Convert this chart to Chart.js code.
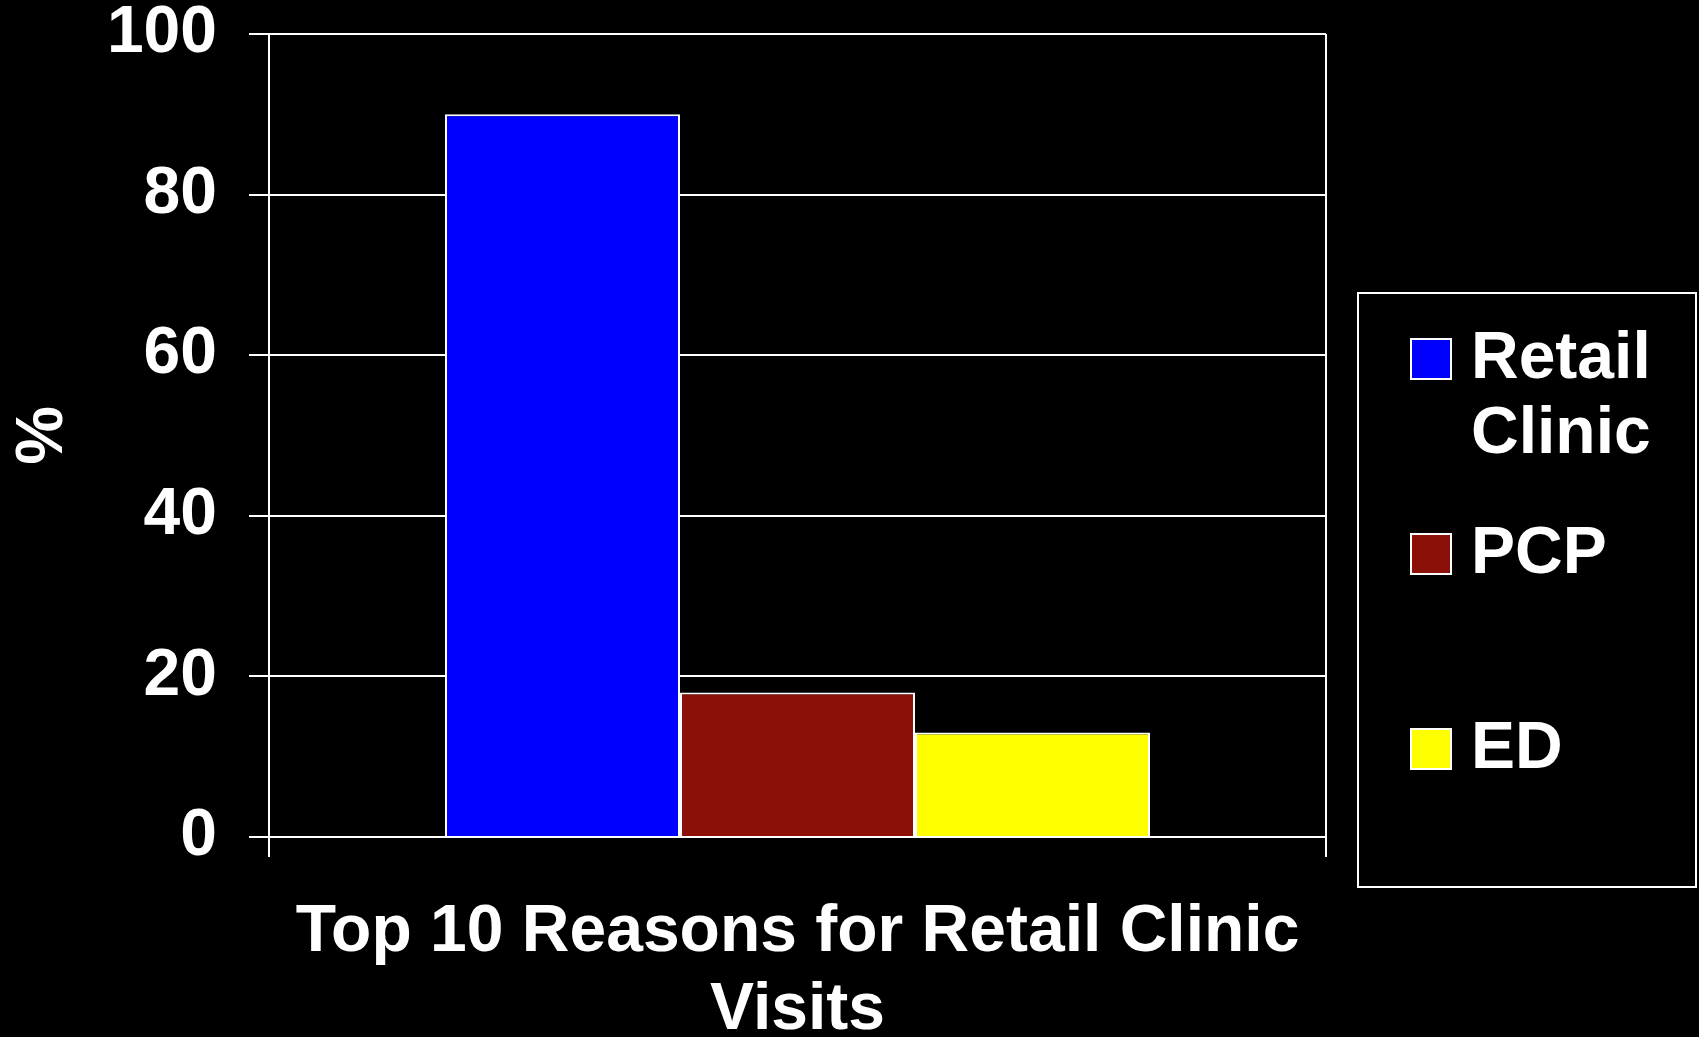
<!DOCTYPE html>
<html>
<head>
<meta charset="utf-8">
<script src="https://cdn.jsdelivr.net/npm/chart.js@4/dist/chart.umd.min.js"></script>
<style>
  html, body { margin: 0; padding: 0; background: #000; overflow: hidden; }
  #wrap { width: 1699px; height: 1100px; position: relative; }
</style>
</head>
<body>
<div id="wrap"><canvas id="chart"></canvas></div>
<script>
// data
const categories = [['Top 10 Reasons for Retail Clinic', 'Visits']];
const seriesNames = ['Retail Clinic', 'PCP', 'ED'];
const retailValues = [90];
const pcpValues = [18];
const edValues = [13];
const seriesColors = ['#0000FF', '#8B1007', '#FFFF00'];
const yTicks = [0, 20, 40, 60, 80, 100];

const FONT = "'Liberation Sans', Arial, sans-serif";

// boxed legend on the right, words wrapped like the original
const boxLegend = {
  id: 'boxLegend',
  afterDraw(chart) {
    const {ctx, chartArea} = chart;
    const left = chartArea.right + 32, top = 293, w = 338, h = 594;
    ctx.save();
    ctx.strokeStyle = '#fff';
    ctx.lineWidth = 2;
    ctx.strokeRect(left, top, w, h);
    ctx.font = 'bold 66px ' + FONT;
    ctx.textBaseline = 'middle';
    ctx.fillStyle = '#fff';
    const textX = left + 113;
    const maxW = left + w - 8 - textX;
    chart.data.datasets.forEach((ds, i) => {
      const y = top + 66 + i * 195;
      ctx.fillStyle = ds.backgroundColor;
      ctx.fillRect(left + 53, y - 20, 40, 40);
      ctx.strokeRect(left + 53, y - 20, 40, 40);
      // simple word wrap
      const lines = [];
      let cur = '';
      ds.label.split(' ').forEach(word => {
        const test = cur ? cur + ' ' + word : word;
        if (cur && ctx.measureText(test).width > maxW) { lines.push(cur); cur = word; }
        else cur = test;
      });
      lines.push(cur);
      ctx.fillStyle = '#fff';
      lines.forEach((line, j) => ctx.fillText(line, textX, y + 1 + j * 75));
    });
    ctx.restore();
  }
};

const config = {
  type: 'bar',
  data: {
    labels: categories,
    datasets: [
      { label: seriesNames[0], data: retailValues, backgroundColor: seriesColors[0] },
      { label: seriesNames[1], data: pcpValues, backgroundColor: seriesColors[1] },
      { label: seriesNames[2], data: edValues, backgroundColor: seriesColors[2] }
    ]
  },
  options: {
    animation: false,
    responsive: true,
    maintainAspectRatio: false,
    layout: { padding: { top: 34, right: 373, left: 0, bottom: 0 } },
    datasets: {
      bar: {
        borderColor: '#fff',
        borderWidth: 2,
        categoryPercentage: 0.667,
        barPercentage: 1
      }
    },
    plugins: {
      legend: { display: false },
      tooltip: { enabled: false }
    },
    scales: {
      x: {
        offset: true,
        grid: { color: '#fff', lineWidth: 2, tickLength: 20, offset: true },
        border: { color: '#fff', width: 2 },
        ticks: {
          color: '#fff',
          padding: 37,
          font: { family: FONT, size: 66, weight: 'bold', lineHeight: 1.18 }
        },
        afterFit(scale) { scale.height = 263; }
      },
      y: {
        min: yTicks[0],
        max: yTicks[yTicks.length - 1],
        ticks: {
          stepSize: yTicks[1] - yTicks[0],
          color: '#fff',
          padding: 32,
          font: { family: FONT, size: 66, weight: 'bold', lineHeight: 1.0 }
        },
        grid: { color: '#fff', lineWidth: 2, tickLength: 20 },
        border: { color: '#fff', width: 2 },
        title: {
          display: true,
          text: '%',
          color: '#fff',
          padding: { top: 4, bottom: 0 },
          font: { family: FONT, size: 66, weight: 'bold', lineHeight: 1.2 }
        },
        afterFit(scale) {
          scale.width = 269;
          scale.paddingTop = 0;
          scale.paddingBottom = 0;
        }
      }
    }
  },
  plugins: [boxLegend]
};

const chart = new Chart(document.getElementById('chart'), config);
</script>
</body>
</html>
